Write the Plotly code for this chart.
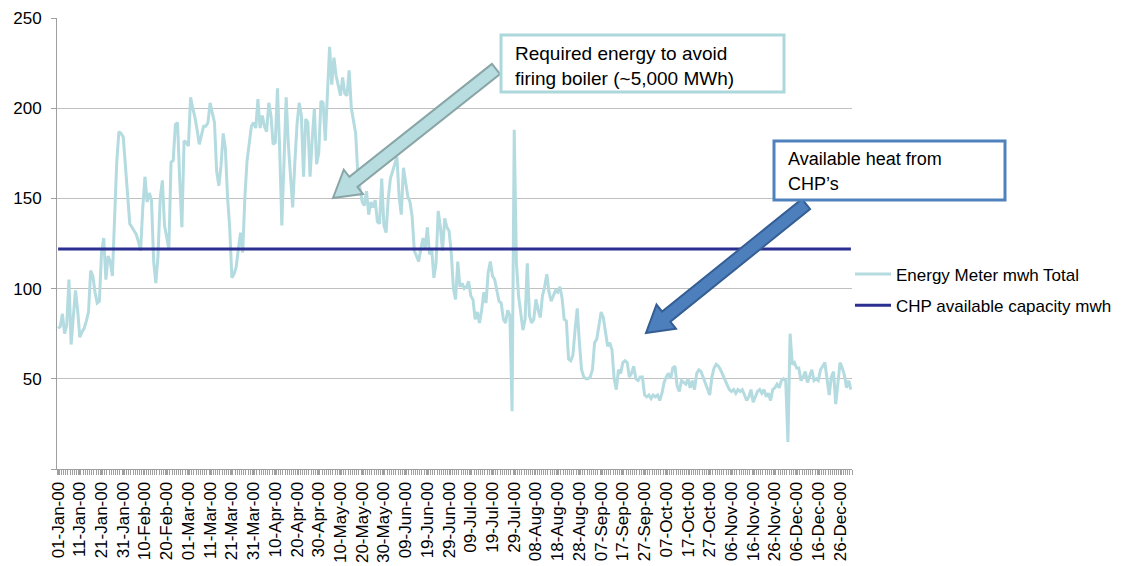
import pandas as pd
import plotly.graph_objects as go

# Daily heat meter readings (MWh) for 2000, by quarter
energy_q1 = [
    78, 79, 86, 75, 80, 105, 69, 85, 99, 88,
    73, 76, 78, 82, 87, 110, 107, 98, 92, 93,
    120, 128, 105, 118, 115, 107, 140, 170, 187, 186,
    184, 168, 150, 136, 134, 132, 130, 126, 121, 145,
    162, 148, 153, 149, 115, 103, 118, 150, 160, 135,
    128, 122, 170, 171, 191, 192, 160, 134, 182, 181,
    179, 206, 200, 195, 188, 180, 185, 190, 190, 192,
    203, 198, 192, 165, 157, 168, 186, 178, 151, 134,
    106, 108, 112, 122, 131, 120, 151, 171, 180, 190,
    192,
]
energy_q2 = [
    189, 205, 189, 196, 190, 187, 203, 196, 180,
    181, 211, 178, 135, 170, 206, 180, 160, 145, 170,
    191, 203, 196, 162, 194, 192, 162, 183, 200, 169,
    175, 204, 203, 182, 213, 234, 213, 228, 218, 212,
    207, 217, 208, 207, 221, 200, 192, 186, 163, 156,
    148, 146, 154, 141, 148, 145, 149, 137, 136, 161,
    135, 131, 150, 161, 165, 170, 173, 151, 141, 167,
    160, 151, 148, 140, 121, 118, 115, 122, 128, 122,
    134, 119, 122, 106, 114, 143, 134, 121, 139, 134,
    132, 120,
]
energy_q3 = [
    100, 94, 115, 101, 103, 100, 101, 104,
    96, 94, 83, 87, 81, 88, 98, 92, 109, 115,
    107, 105, 99, 93, 92, 83, 81, 88, 85, 32,
    188, 114, 96, 85, 77, 83, 114, 85, 81, 83,
    94, 88, 84, 96, 101, 108, 98, 93, 96, 99,
    98, 101, 95, 83, 82, 61, 60, 63, 77, 89,
    70, 55, 51, 50, 50, 51, 55, 70, 72, 81,
    87, 84, 76, 68, 70, 66, 50, 44, 55, 53,
    59, 60, 59, 51, 53, 57, 50, 49, 51, 51,
    41, 40, 41, 39,
]
energy_q4 = [
    41, 40, 41, 38, 42, 48,
    51, 53, 50, 56, 57, 46, 43, 49, 48, 47,
    50, 45, 49, 44, 53, 55, 54, 51, 48, 44,
    41, 51, 56, 58, 57, 55, 52, 49, 47, 44,
    43, 44, 42, 44, 43, 44, 41, 38, 40, 44,
    37, 40, 43, 44, 42, 44, 40, 42, 38, 44,
    45, 47, 45, 49, 50, 49, 15, 75, 58, 59,
    56, 56, 49, 51, 54, 48, 52, 55, 49, 50,
    49, 55, 57, 59, 50, 41, 51, 54, 36, 49,
    59, 56, 52, 45, 49, 44,
]
chp_capacity = 122  # MWh per day available from the CHP units

energy = energy_q1 + energy_q2 + energy_q3 + energy_q4
dates = pd.date_range("2000-01-01", periods=len(energy), freq="D")

y_ticks = [0, 50, 100, 150, 200, 250]
y_tick_text = ["", "50", "100", "150", "200", "250"]

FONT = "Liberation Sans, Arial, sans-serif"
TEAL = "#b4dbe0"
NAVY = "#2b2f8f"

# plot-area geometry in pixels (used to place callouts)
W, H = 1124, 566
L, R, T, B = 57, 272, 18, 97
PW, PH = W - L - R, H - T - B


def to_paper(px, py):
    return (px - L) / PW, (H - B - py) / PH


def block_arrow(tail, tip, shaft, head_w, head_len):
    (tx, ty), (hx, hy) = tail, tip
    dx, dy = hx - tx, hy - ty
    n = (dx * dx + dy * dy) ** 0.5
    ux, uy = dx / n, dy / n
    nx, ny = -uy, ux
    bx, by = hx - ux * head_len, hy - uy * head_len
    pts = [
        (tx + nx * shaft / 2, ty + ny * shaft / 2),
        (bx + nx * shaft / 2, by + ny * shaft / 2),
        (bx + nx * head_w / 2, by + ny * head_w / 2),
        (hx, hy),
        (bx - nx * head_w / 2, by - ny * head_w / 2),
        (bx - nx * shaft / 2, by - ny * shaft / 2),
        (tx - nx * shaft / 2, ty - ny * shaft / 2),
    ]
    conv = [to_paper(x, y) for x, y in pts]
    return "M " + " L ".join(f"{x:.5f} {y:.5f}" for x, y in conv) + " Z"


def rect(x0, y0, x1, y1, color):
    px0, py0 = to_paper(x0, y1)
    px1, py1 = to_paper(x1, y0)
    return dict(type="rect", xref="paper", yref="paper", x0=px0, y0=py0, x1=px1, y1=py1,
                line=dict(color=color, width=3), fillcolor="white", layer="above")


fig = go.Figure()
fig.add_trace(go.Scatter(
    x=dates, y=energy, mode="lines", name="Energy Meter mwh Total",
    line=dict(color=TEAL, width=3), legendgroup="a",
))
fig.add_trace(go.Scatter(
    x=dates, y=[chp_capacity] * len(dates), mode="lines", name="CHP available capacity mwh",
    line=dict(color=NAVY, width=3), legendgroup="b",
))

shapes = [
    dict(type="path", xref="paper", yref="paper", layer="above",
         path=block_arrow((496, 69), (333, 198), 13, 31, 26),
         fillcolor="#b7dde1", line=dict(color="#8aa5a6", width=2)),
    rect(501, 35, 784, 92, "#acd8dc"),
    dict(type="path", xref="paper", yref="paper", layer="above",
         path=block_arrow((806, 204), (646, 333), 13, 31, 26),
         fillcolor="#4d7fbd", line=dict(color="#355f94", width=2)),
    rect(774, 141, 1005, 200, "#4f81bd"),
]

annotations = []
for text, (px, py), size in [
    ("Required energy to avoid", (513, 53), 19),
    ("firing boiler (~5,000 MWh)", (513, 78), 19),
    ("Available heat from", (786, 159), 18),
    ("CHP\u2019s", (786, 184), 18),
]:
    ax, ay = to_paper(px, py)
    annotations.append(dict(
        xref="paper", yref="paper", x=ax, y=ay, xanchor="left", yanchor="middle",
        text=text, showarrow=False, align="left",
        font=dict(family=FONT, size=size, color="black"),
    ))

lx, ly = to_paper(850, 290)

fig.update_layout(
    width=W, height=H,
    template="none",
    margin=dict(l=L, r=R, t=T, b=B, autoexpand=False),
    paper_bgcolor="white", plot_bgcolor="white",
    font=dict(family=FONT, size=17, color="black"),
    showlegend=True,
    legend=dict(x=lx, y=ly, xanchor="left", yanchor="middle",
                font=dict(family=FONT, size=17, color="black"),
                bgcolor="rgba(0,0,0,0)", itemwidth=36, tracegroupgap=6),
    shapes=shapes,
    annotations=annotations,
    xaxis=dict(
        type="date",
        range=["1999-12-31 12:00", "2000-12-31 12:00"],
        tick0="2000-01-01", dtick=10 * 86400000,
        tickformat="%d-%b-%y", tickangle=-90,
        ticks="outside", ticklen=5, tickcolor="#9f9f9f",
        minor=dict(ticks="outside", ticklen=5, tickcolor="#9f9f9f",
                   tick0="1999-12-31 12:00", dtick=86400000),
        showgrid=False, showline=True, linecolor="#9f9f9f", linewidth=1,
        zeroline=False, automargin=False,
        tickfont=dict(family=FONT, size=17, color="black"),
    ),
    yaxis=dict(
        range=[0, 250], tickvals=y_ticks, ticktext=y_tick_text,
        ticks="outside", ticklen=5, tickcolor="#9f9f9f",
        showgrid=True, gridcolor="#c0c0c0", gridwidth=1,
        showline=True, linecolor="#9f9f9f", linewidth=1,
        zeroline=False, automargin=False, ticklabelstandoff=6,
        tickfont=dict(family=FONT, size=17, color="black"),
    ),
)

fig.write_html("out.html")
